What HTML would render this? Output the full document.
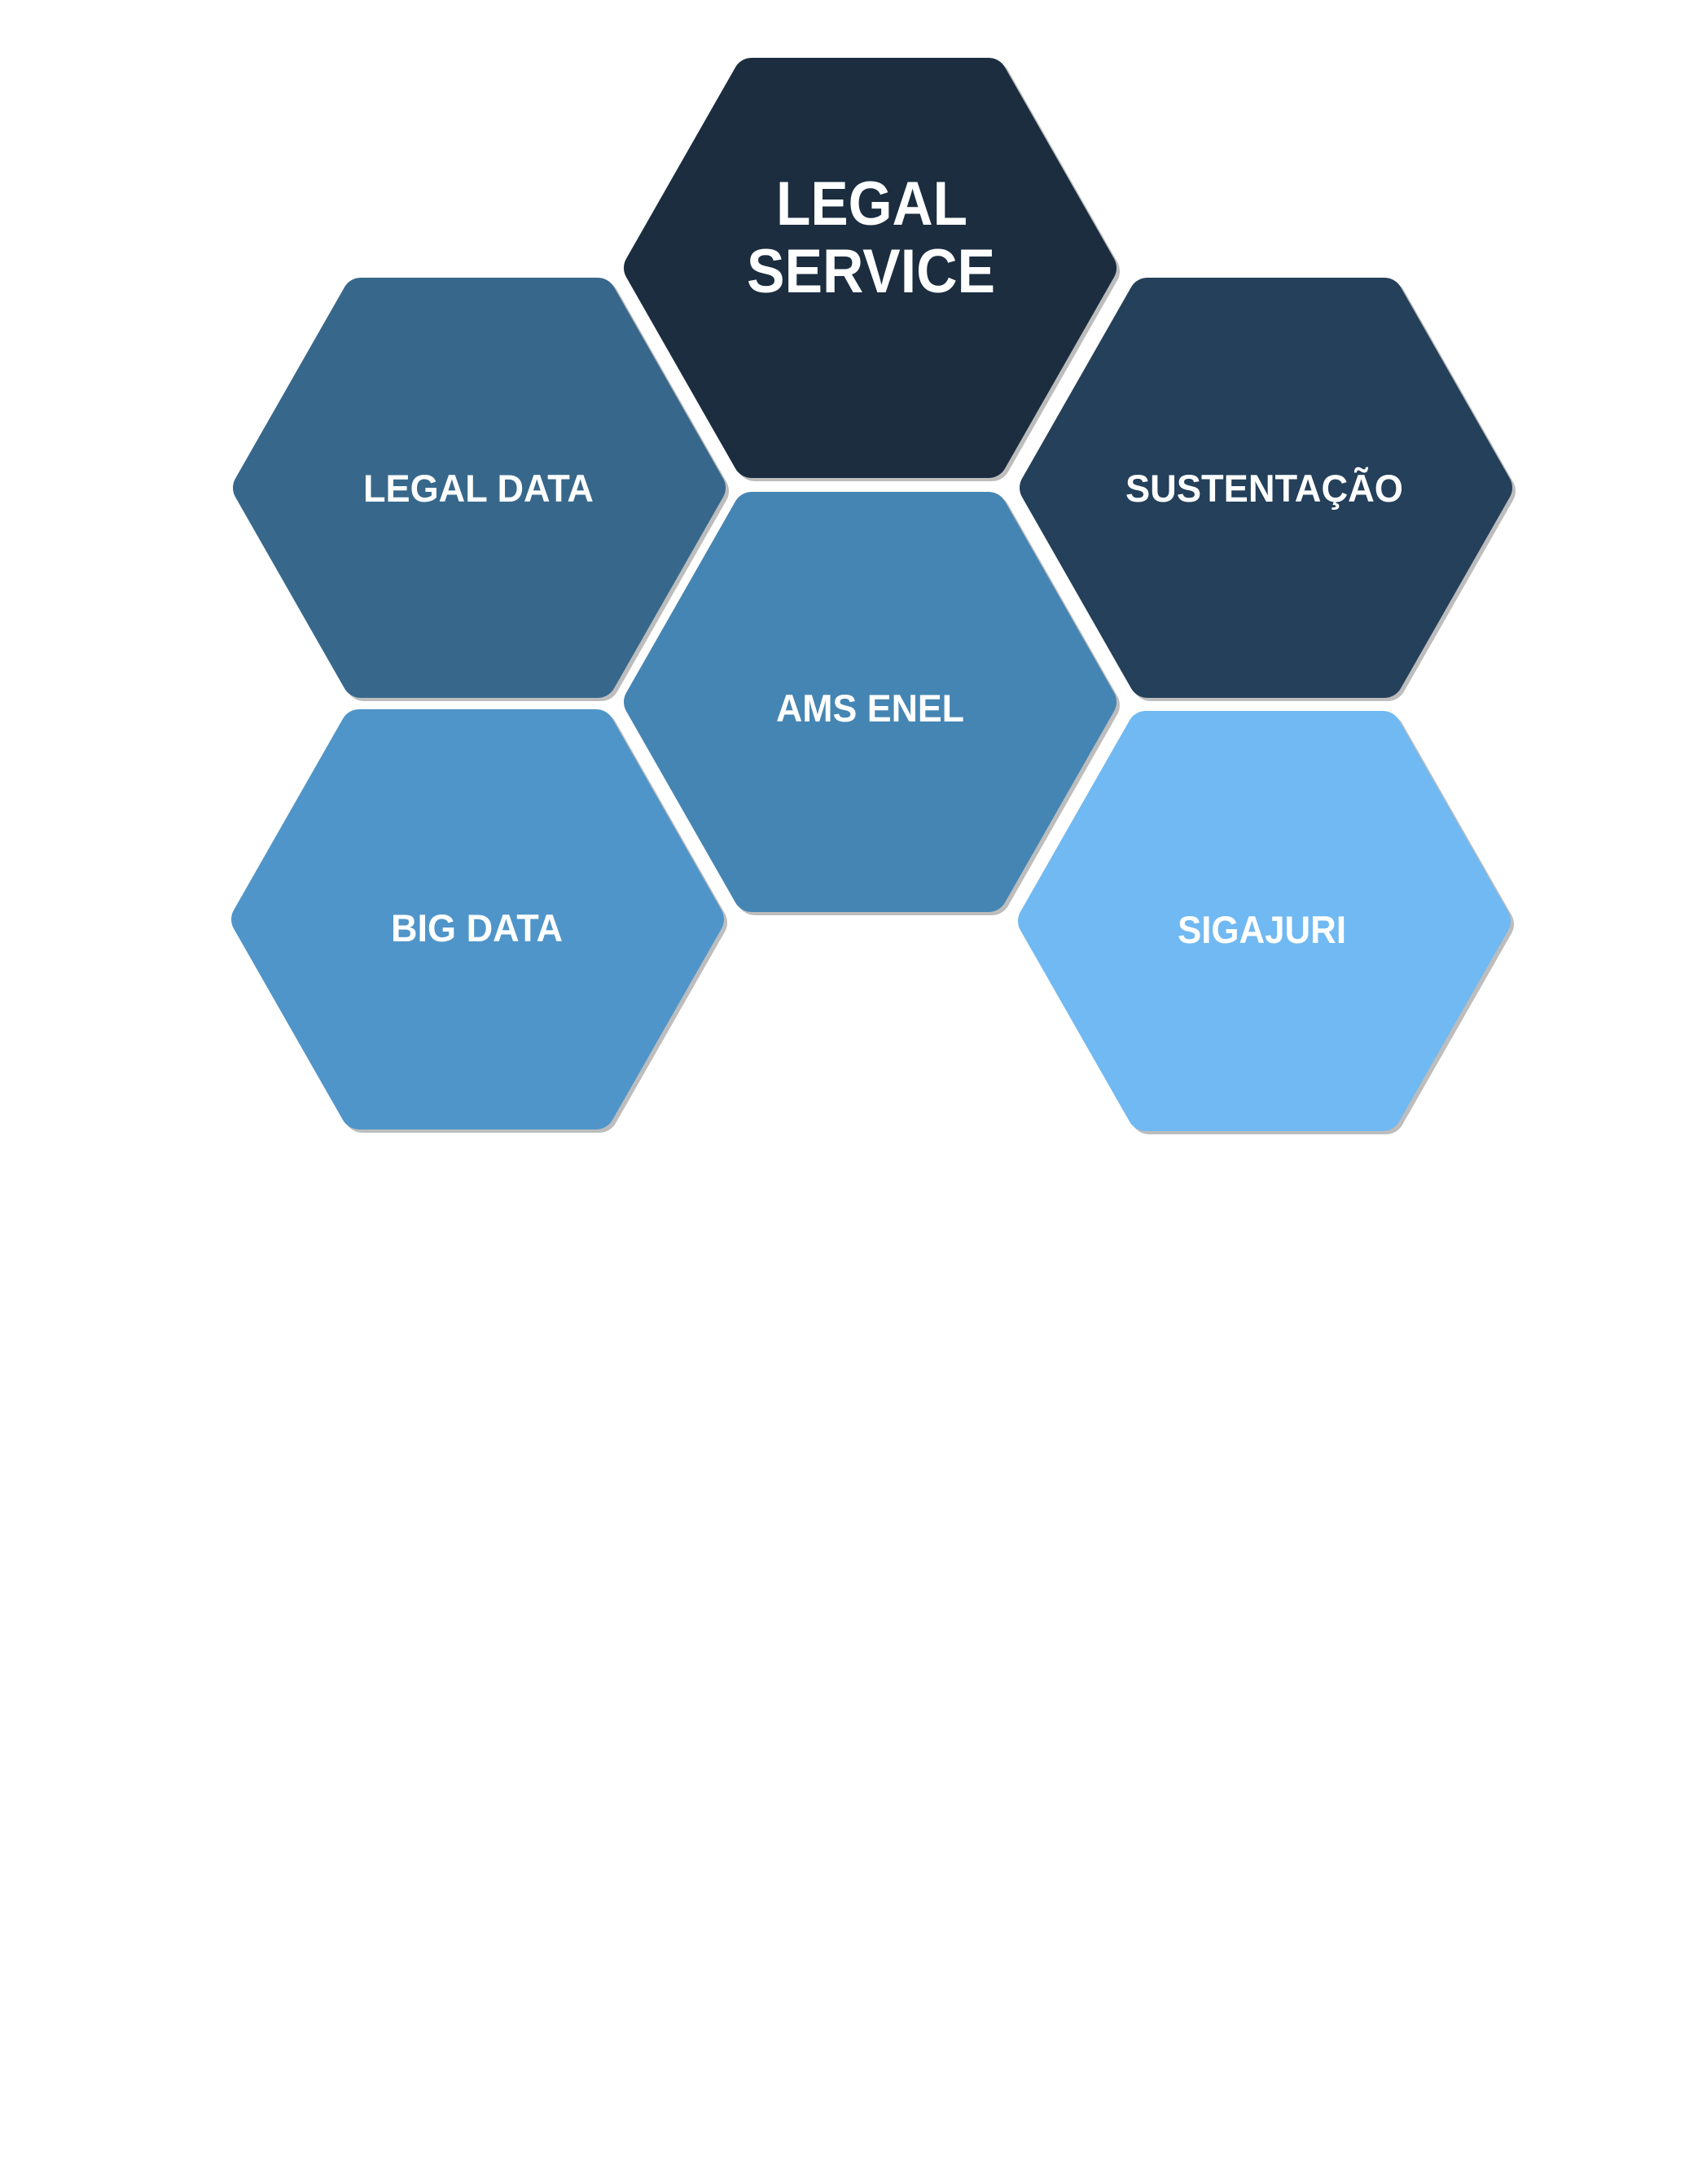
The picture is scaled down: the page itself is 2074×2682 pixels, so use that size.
<!DOCTYPE html>
<html><head><meta charset="utf-8"><style>
html,body{margin:0;padding:0;background:#fff;}
svg{display:block;}
text{font-family:"Liberation Sans",Arial,sans-serif;font-weight:bold;fill:#fff;text-anchor:start;}
</style></head><body>
<svg width="2074" height="2682" viewBox="0 0 2074 2682" xmlns="http://www.w3.org/2000/svg">
<defs>
<polygon id="hx" points="161,25 452,25 586,260 452,495 161,495 27,260"/>
</defs>
<g stroke-linejoin="round" stroke-width="46">
<g fill="#bdbdbd" stroke="#bdbdbd">
<use href="#hx" x="766" y="73"/>
<use href="#hx" x="286" y="343"/>
<use href="#hx" x="1252" y="343"/>
<use href="#hx" x="766" y="606"/>
<use href="#hx" x="284" y="873"/>
<use href="#hx" x="1250" y="875"/>
</g>
<use href="#hx" x="762" y="69" fill="#1b2d3f" stroke="#1b2d3f"/>
<use href="#hx" x="282" y="339" fill="#37688b" stroke="#37688b"/>
<use href="#hx" x="1248" y="339" fill="#24405a" stroke="#24405a"/>
<use href="#hx" x="762" y="602" fill="#4585b3" stroke="#4585b3"/>
<use href="#hx" x="280" y="869" fill="#4f95c9" stroke="#4f95c9"/>
<use href="#hx" x="1246" y="871" fill="#70b9f2" stroke="#70b9f2"/>
</g>
<text x="953" y="276" font-size="76" textLength="235" lengthAdjust="spacingAndGlyphs">LEGAL</text>
<text x="917" y="359" font-size="76" textLength="305" lengthAdjust="spacingAndGlyphs">SERVICE</text>
<text x="446" y="616" font-size="47" textLength="283" lengthAdjust="spacingAndGlyphs">LEGAL DATA</text>
<text x="1382" y="616" font-size="47" textLength="341" lengthAdjust="spacingAndGlyphs">SUSTENTAÇÃO</text>
<text x="953" y="886" font-size="47" textLength="231" lengthAdjust="spacingAndGlyphs">AMS ENEL</text>
<text x="480" y="1156" font-size="47" textLength="211" lengthAdjust="spacingAndGlyphs">BIG DATA</text>
<text x="1446" y="1158" font-size="47" textLength="207" lengthAdjust="spacingAndGlyphs">SIGAJURI</text>
</svg>
</body></html>
